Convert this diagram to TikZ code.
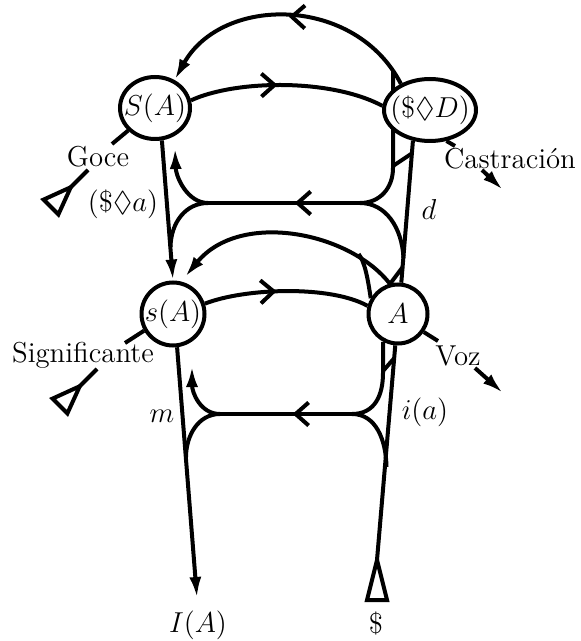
\documentclass[tikz,border=0pt]{standalone}
\usepackage{amssymb}
\usepackage{tikz}
\usetikzlibrary{arrows.meta, shapes.geometric, decorations.markings, backgrounds}

\begin{document}
\begin{tikzpicture}[x=0.5pt, y=-0.5pt, line width=2pt, every node/.style={font=\Large}]
    % Define styles for the nodes
    \tikzstyle{sig} = [ellipse, draw, fill=white, inner sep=0pt]
    \tikzstyle{lbl} = [anchor=base, inner sep=0pt]
    \tikzstyle{arrow} = [-{Latex[length=10.5pt, width=6pt]}]
    \tikzstyle{tri} = [line join=miter]
    \tikzset{midarrow/.style={postaction={decorate}, decoration={markings,
        mark=at position #1 with {\arrow{Straight Barb[length=6.5pt, width=11.5pt]}}}}}

    \useasboundingbox (0,0) rectangle (580,641);

    % Signifiers
    \node[sig, minimum width=35pt, minimum height=31pt] (SA) at (155,108) {\makebox[0pt]{$S(A)$}};
    \node[sig, minimum width=46pt, minimum height=31pt] (D)  at (430,110) {\makebox[0pt]{$(\$\Diamond D)$}};
    \node[sig, minimum size=31.5pt] (sA) at (173,314) {\makebox[0pt]{$s(A)$}};
    \node[sig, minimum size=29.5pt] (A)  at (398,314) {\makebox[0pt]{$A$}};

    % Labels
    \node[lbl] (goce)   at (98,167)  {Goce};
    \node[lbl] (dpa)    at (123,212) {$(\$\Diamond a)$};
    \node[lbl] (signif) at (83,362)  {Significante};
    \node[lbl] (castr)  at (510,169) {Castración};
    \node[lbl] (d)      at (429,220) {$d$};
    \node[lbl] (voz)    at (458,365) {Voz};
    \node[lbl] (m)      at (162,422) {$m$};
    \node[lbl] (ia)     at (425,419) {$i(a)$};
    \node[lbl] (IAl)    at (198,632) {$I(A)$};
    \node[lbl] (bar)    at (376,633) {\$};

    % Junctions
    \coordinate (ul)   at (208,203);
    \coordinate (ur)   at (360,203);
    \coordinate (uarr) at (175,148);
    \coordinate (ulm)  at (170.5,247);
    \coordinate (urm)  at (403.5,258);
    \coordinate (urv)  at (393,168);
    \coordinate (dtop) at (393,71);
    \coordinate (ut1)  at (393,166);
    \coordinate (ut2)  at (412.5,153);

    \coordinate (ll)   at (220,414);
    \coordinate (lr)   at (352,414);
    \coordinate (larr) at (192,366);
    \coordinate (llm)  at (186,457);
    \coordinate (lrm)  at (386.5,467);
    \coordinate (lrv)  at (383,373);
    \coordinate (lt1)  at (383,371);
    \coordinate (lt2)  at (394.4,358);

    \coordinate (a2t)  at (402.7,267);
    \coordinate (a2s)  at (390,284);
    \coordinate (a2e)  at (185,277);
    \coordinate (jb)   at (358.6,254);

    \coordinate (IA)   at (197,598);
    \coordinate (b0)   at (377,560);
    \coordinate (b1)   at (367,600);
    \coordinate (b2)   at (387,600);

    \coordinate (gt)   at (112,144);
    \coordinate (g0)   at (70.8,187.2);
    \coordinate (g1)   at (43.6,199.6);
    \coordinate (g2)   at (58.4,214.4);
    \coordinate (gl)   at (88,170);
    \coordinate (st)   at (125,343);
    \coordinate (s0)   at (79.8,386.2);
    \coordinate (s1)   at (52.6,398.6);
    \coordinate (s2)   at (67.4,413.4);
    \coordinate (sl)   at (97,369);
    \coordinate (ct)   at (455,146);
    \coordinate (c1)   at (482,170);
    \coordinate (c2)   at (503,190);
    \coordinate (vt)   at (438,341);
    \coordinate (v1)   at (475,368);
    \coordinate (v2)   at (503,393);

    \begin{scope}[on background layer={line width=2pt}]
    % Upper chain
    \draw[arrow, midarrow=0.5] (D.138) .. controls (355,-5) and (222,-5) .. (SA.55);
    \draw[midarrow=0.45] (SA.12) .. controls (235,80) and (330,78) .. (D.175);

    % Upper loop
    \draw[midarrow=0.43] (ur) -- (ul);
    \draw[arrow] (ul) .. controls (188,203) and (176,178) .. (uarr);
    \draw (ul) .. controls (186,203) and (171,222) .. (ulm);
    \draw (ur) .. controls (380,203) and (393,188) .. (urv) -- (dtop);
    \draw (ur) .. controls (386,203) and (402,228) .. (urm);
    \draw (ut1) -- (ut2);

    % Lower chain
    \draw[midarrow=0.44] (sA.18) .. controls (245,288) and (330,285) .. (A.165);
    \draw[arrow] (a2t) -- (a2s) .. controls (350,232) and (240,210) .. (a2e);
    \draw (A.150) .. controls (368,280) and (365,262) .. (jb);

    % Lower loop
    \draw[midarrow=0.45] (lr) -- (ll);
    \draw[arrow] (ll) .. controls (200,414) and (192,392) .. (larr);
    \draw (ll) .. controls (198,414) and (186,436) .. (llm);
    \draw (lr) .. controls (375,414) and (383,395) .. (lrv) -- (A.-118);
    \draw (lr) .. controls (376,414) and (386,440) .. (lrm);
    \draw (lt1) -- (lt2);

    % Verticals
    \draw[arrow] (SA.-78) -- (sA.90);
    \draw[arrow] (sA.-83) -- (IA);
    \draw (D.-119) -- (A.84);
    \draw (b0) -- (A.-95);
    \draw[tri] (b1) -- (b2) -- (b0) -- cycle;

    % Side vectors
    \draw (SA.-140) -- (gt);
    \draw (g0) -- (gl);
    \draw[tri] (g1) -- (g2) -- (g0) -- cycle;
    \draw (sA.-150) -- (st);
    \draw (s0) -- (sl);
    \draw[tri] (s1) -- (s2) -- (s0) -- cycle;
    \draw (D.-62) -- (ct);
    \draw[arrow] (c1) -- (c2);
    \draw (A.-35) -- (vt);
    \draw[arrow] (v1) -- (v2);
    \end{scope}
\end{tikzpicture}
\end{document}
